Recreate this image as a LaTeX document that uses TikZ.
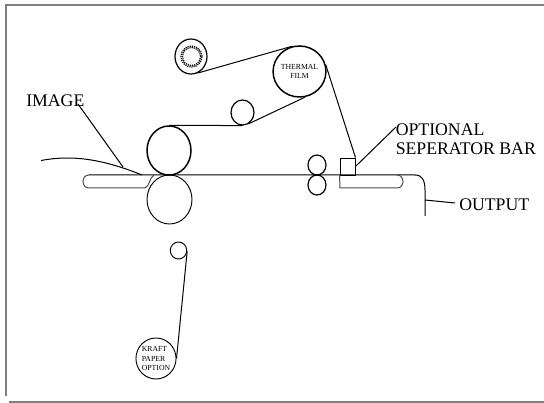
\documentclass[tikz,border=0pt]{standalone}
\usepackage{fontspec}
\setmainfont{Liberation Serif}
\usetikzlibrary{shapes.geometric}

\tikzset{
  roller/.style n args={2}{ellipse,draw,inner sep=0pt,minimum width=#1*0.75pt,minimum height=#2*0.75pt},
  corering/.style={dash pattern=on 0.9pt off 0.7pt,line width=0.9pt},
  bigtext/.style={font=\fontsize{13.3}{14.2}\selectfont,inner sep=0pt,align=left},
  smalltext/.style={font=\fontsize{5.8}{7.4}\selectfont,inner sep=0pt,align=left},
  frameline/.style={gray,line width=1.1pt},
  web/.style={black,line width=0.75pt},
}

\begin{document}
\begin{tikzpicture}[x=0.75pt,y=-0.75pt]
    \useasboundingbox (0,0) rectangle (544,403);

    %page border
    \draw[frameline] (6,396) -- (6,5) -- (544,5);
    \draw[frameline,line width=0.8pt] (9,402) -- (544,402);

    %rollers
    \node[roller={32}{35},line width=0.9pt] (supply) at (191,56.5) {};
    \node[roller={21}{21},corering] (supplyin) at (191.5,56.5) {};
    \node[roller={18}{18},corering] (supplycore) at (191.5,56.5) {};
    \node[roller={47}{51},line width=1.1pt,smalltext,align=center] (film) at (299.5,71.5) {THERMAL\\FILM};
    \node[roller={23}{25},line width=0.9pt] (idler) at (242.5,112.5) {};
    \node[roller={44}{49},line width=1.1pt] (upper) at (169,150.5) {};
    \node[roller={45}{49},line width=0.7pt] (lower) at (169.5,199.5) {};
    \node[roller={16.5}{17},line width=0.7pt] (feed) at (178.5,250.5) {};
    \node[roller={38}{41},line width=0.7pt,smalltext] (kraft) at (156,358.5) {KRAFT\\PAPER\\OPTION};

    \foreach \name/\ypos in {nipa/165,nipb/185} {
      \node[roller={18}{20},line width=0.9pt] (\name) at (317,\ypos) {};
    }

    %seperator bar
    \node[rectangle,draw,line width=0.7pt,inner sep=0pt,minimum width=11.25pt,minimum height=12.75pt] (bar) at (347.5,166.5) {};

    %labels
    \node[bigtext,anchor=west] (imagelabel) at (26,101) {IMAGE};
    \node[bigtext,anchor=north west] (barlabel) at (395.5,123.5) {OPTIONAL\\SEPERATOR BAR};
    \node[bigtext,anchor=west] (outlabel) at (459,205) {OUTPUT};

    \coordinate (imageend) at (78,104);
    \coordinate (imagefoot) at (123,167);
    \coordinate (barend) at (396,127);
    \coordinate (outfoot) at (425,200);

    %film path
    \draw[web] (supply.-68) -- (film.107);
    \draw[web] (film.-78) -- (idler.-62);
    \draw[web] (idler.-90) -- (upper.90);
    \draw[web] (film.15) -- (bar.north east);
    \draw[web] (feed.-5) -- (kraft.0);

    %paper path and trays
    \draw[web] (89,175) -- (415,175) .. controls (422,175) and (425,180) .. (425,190) -- (425,216);
    \draw[web,gray!60!black] (89,175) .. controls (81,175) and (81,188) .. (89,188) -- (145,188)
      .. controls (150,186) and (149,178) .. (154,175);
    \draw[web,gray!60!black] (bar.south west) -- (340,188) -- (397,188) .. controls (405,188) and (405,175) .. (397,175);
    \draw[web] (41,160.5) .. controls (70,155) and (100,158) .. (142,175);

    %leader lines
    \draw[web] (imageend) -- (imagefoot);
    \draw[web] (bar.east) -- (barend);
    \draw[web] (outfoot) -- (455,203);
\end{tikzpicture}
\end{document}
